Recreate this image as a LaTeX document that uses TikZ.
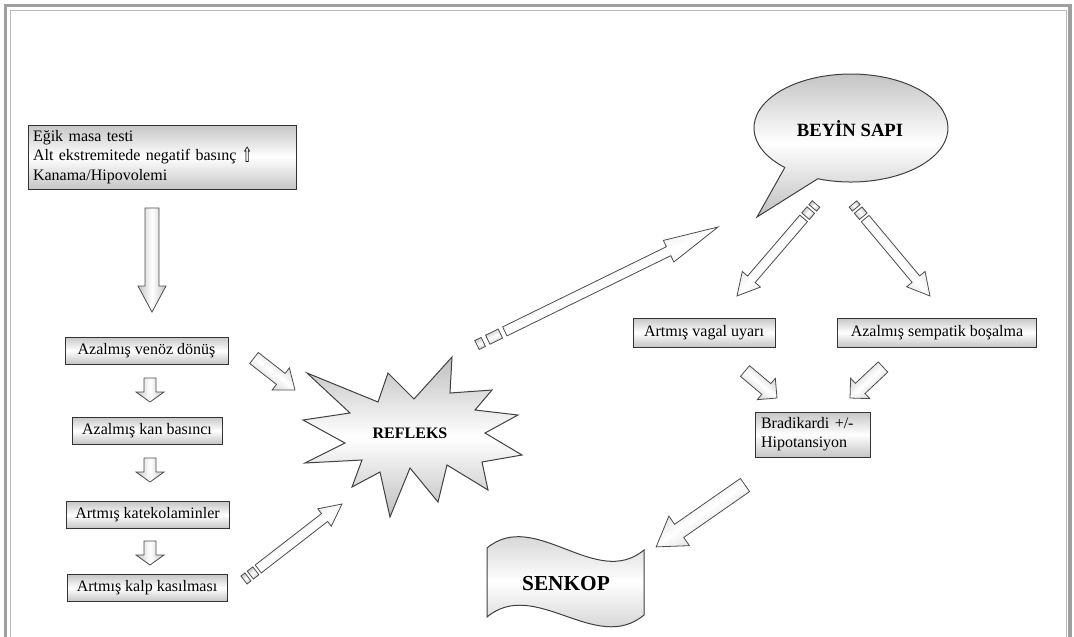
\documentclass[tikz,border=0pt]{standalone}
\usepackage{fontspec}
\setmainfont{Liberation Serif}
\newfontfamily\dejavu{DejaVu Sans}
\newlength\pxl \setlength\pxl{0.75pt}
\tikzset{
  box/.style={draw=black!80, line width=0.75pt, top color=gray!45, bottom color=gray!45, middle color=white,
    inner sep=0pt, minimum height=27*\pxl, font=\fontsize{12pt}{14.5pt}\selectfont},
  barrow/.style={draw=black!70, line width=0.6pt, top color=gray!45, bottom color=gray!45, middle color=white},
  blob/.style={draw=black!75, line width=0.75pt, top color=gray!50, bottom color=gray!50, middle color=white},
  biglabel/.style={font=\bfseries\fontsize{#1}{#1}\selectfont, inner sep=0pt},
}
% plain block arrow: [opts]{from}{to}{shaft half}{head half}{head length}
\newcommand\blockarrow[6][]{%
  \pgfpointdiff{\pgfpointanchor{#2}{center}}{\pgfpointanchor{#3}{center}}%
  \pgfgetlastxy{\bax}{\bay}%
  \pgfmathparse{veclen(\bax,\bay)}\let\balen\pgfmathresult
  \pgfmathparse{atan2(\bay,\bax)}\let\baang\pgfmathresult
  \begin{scope}[shift={(#2)}, rotate=\baang]
    \path[barrow,shading angle=\baang,#1] (0pt,{-#4*\pxl}) -- ({\balen pt-#6*\pxl},{-#4*\pxl}) -- ({\balen pt-#6*\pxl},{-#5*\pxl})
      -- ({\balen pt},0pt) -- ({\balen pt-#6*\pxl},{#5*\pxl}) -- ({\balen pt-#6*\pxl},{#4*\pxl}) -- (0pt,{#4*\pxl}) -- cycle;
  \end{scope}}
% striped block arrow: {from}{to}{shaft half}{head half}{head length}{stripe1}{stripe2}{gap}
\newcommand\stripedarrow[8]{%
  \pgfpointdiff{\pgfpointanchor{#1}{center}}{\pgfpointanchor{#2}{center}}%
  \pgfgetlastxy{\bax}{\bay}%
  \pgfmathparse{veclen(\bax,\bay)}\let\balen\pgfmathresult
  \pgfmathparse{atan2(\bay,\bax)}\let\baang\pgfmathresult
  \begin{scope}[shift={(#1)}, rotate=\baang]
    \path[barrow,shading angle=\baang] (0pt,{-#3*\pxl}) rectangle ({#6*\pxl},{#3*\pxl});
    \path[barrow,shading angle=\baang] ({(#6+#8)*\pxl},{-#3*\pxl}) rectangle ({(#6+#8+#7)*\pxl},{#3*\pxl});
    \path[barrow,shading angle=\baang] ({(#6+2*#8+#7)*\pxl},{-#3*\pxl}) -- ({\balen pt-#5*\pxl},{-#3*\pxl}) -- ({\balen pt-#5*\pxl},{-#4*\pxl})
      -- ({\balen pt},0pt) -- ({\balen pt-#5*\pxl},{#4*\pxl}) -- ({\balen pt-#5*\pxl},{#3*\pxl}) -- ({(#6+2*#8+#7)*\pxl},{#3*\pxl}) -- cycle;
  \end{scope}}
\begin{document}
\begin{tikzpicture}[x=0.75pt,y=-0.75pt, line join=miter]
\useasboundingbox (0,0) rectangle (1074,636);
% frame
\draw[gray!75, line width=3.5*\pxl] (5.5,640) -- (5.5,5.5) -- (1070,5.5) -- (1070,640);
\draw[gray!55, line width=1*\pxl] (10,640) -- (10,10) -- (1066,10) -- (1066,640);

% left column
\node[box, minimum width=268*\pxl, minimum height=64*\pxl, text width=258*\pxl, align=left] (top) at (162,157)
  {Eğik masa testi\\Alt ekstremitede negatif basınç \raisebox{-1pt}{\scalebox{0.8}[1.3]{\dejavu ⇧}}\\Kanama/Hipovolemi};
\node[box, minimum width=163*\pxl] (venoz) at (146.5,350.5) {Azalmış venöz dönüş};
\node[box, minimum width=150*\pxl] (kan) at (147,430.5) {Azalmış kan basıncı};
\node[box, minimum width=163*\pxl] (katek) at (147.5,515) {Artmış katekolaminler};
\node[box, minimum width=160*\pxl] (kalp) at (147,588) {Artmış kalp kasılması};

% right side boxes
\node[box, minimum width=142*\pxl, minimum height=29*\pxl] (vagal) at (704,332.5) {Artmış vagal uyarı};
\node[box, minimum width=199*\pxl, minimum height=29*\pxl] (sempatik) at (937,332.5) {Azalmış sempatik boşalma};
\node[box, minimum width=115*\pxl, minimum height=45*\pxl, text width=103*\pxl, align=left] (bradi) at (812.5,434.5)
  {Bradikardi +/-\\Hipotansiyon};

% REFLEKS star
\path[blob] (307,373) -- (378,402) -- (388,373) -- (414,399) -- (452,357) -- (450,393) -- (492,390) -- (475,410)
  -- (518,415) -- (485,433) -- (522,455) -- (482,462) -- (488,490) -- (447,465) -- (438,502) -- (410,468)
  -- (390,517) -- (380,472) -- (352,487) -- (362,460) -- (305,463) -- (345,443) -- (303,420) -- (350,413) -- cycle;
\node[biglabel=12pt] (refleks) at (410,433) {REFLEKS};

% BEYIN SAPI callout
\path[blob] (784.8,167.5) arc[start angle=133, end angle=470, x radius=97, y radius=54] -- (757,217) -- cycle;
\node[biglabel=14pt] (beyin) at (850,129) {BEYİN SAPI};

% SENKOP wave
\path[blob] (487,548) .. controls (535,508) and (596,590) .. (644,550) -- (644,615)
  .. controls (596,655) and (535,577) .. (487,617) -- cycle;
\node[biglabel=16pt] (senkop) at (566,584) {SENKOP};

% arrow end points
\coordinate (a1s) at (152,208);  \coordinate (a1e) at (152,312);
\coordinate (b1s) at (150,378);  \coordinate (b1e) at (150,402);
\coordinate (b2s) at (150,458);  \coordinate (b2e) at (150,482);
\coordinate (b3s) at (150,541);  \coordinate (b3e) at (150,565);
\coordinate (cs) at (254,358);   \coordinate (ce) at (295,390);
\coordinate (ds) at (244,580);   \coordinate (de) at (342,504);
\coordinate (es) at (477,345);   \coordinate (ee) at (718,227);
\coordinate (fs) at (816,204);   \coordinate (fe) at (737,296);
\coordinate (gs) at (853,204);   \coordinate (ge) at (930,296);
\coordinate (hs) at (745,371);   \coordinate (he) at (777,398);
\coordinate (is) at (883,367);   \coordinate (ie) at (850,398);
\coordinate (js) at (745,485);   \coordinate (je) at (656,547);

\blockarrow{a1s}{a1e}{7}{14}{26}
\blockarrow{b1s}{b1e}{6}{14}{10}
\blockarrow{b2s}{b2e}{6}{14}{10}
\blockarrow{b3s}{b3e}{6}{14}{10}
\blockarrow{cs}{ce}{7}{14}{18}
\stripedarrow{ds}{de}{5}{11}{22}{5}{7}{3}
\stripedarrow{es}{ee}{5}{12}{55}{7}{14}{5}
\stripedarrow{fs}{fe}{5}{12}{22}{5}{8}{3}
\stripedarrow{gs}{ge}{5}{12}{22}{5}{8}{3}
\blockarrow{hs}{he}{7}{14}{14}
\blockarrow{is}{ie}{7}{14}{14}
\blockarrow{js}{je}{8}{18}{28}
\end{tikzpicture}
\end{document}
